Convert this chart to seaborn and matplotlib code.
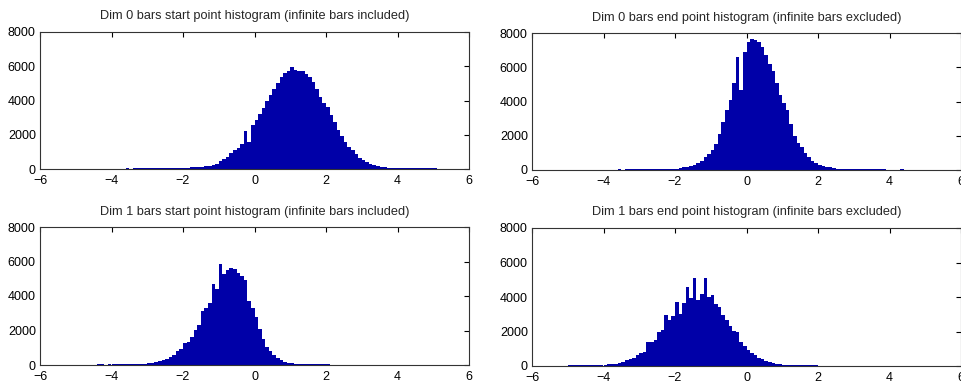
import numpy as np
import pandas as pd
import matplotlib
matplotlib.use("Agg")
import matplotlib.pyplot as plt
import seaborn as sns

# Largeur de classe commune
BIN_WIDTH = 0.1

# Dim 0, points de départ (barres infinies incluses)
dim0_start_lo = -3.6
dim0_start_counts = [
    40, 0, 50, 50, 50, 50, 55, 55, 55, 55, 60, 60, 60, 60, 65, 65,
    70, 80, 90, 105, 115, 130, 150, 190, 230, 300, 480, 560, 700, 950,
    1100, 1250, 1450, 2230, 1600, 2550, 2850, 3200, 3550, 3950, 4300,
    4650, 5000, 5400, 5600, 5750, 5950, 5800, 5750, 5720, 5550, 5350,
    5100, 4650, 4200, 3850, 3600, 3150, 2750, 2300, 1950, 1600, 1300,
    1100, 850, 650, 500, 400, 320, 250, 180, 140, 110, 80, 70, 60, 60,
    55, 55, 55, 50, 50, 50, 50, 50, 45, 40,
]

# Dim 0, points de fin (barres infinies exclues)
dim0_end_lo = -3.6
dim0_end_counts = [
    40, 0, 50, 50, 50, 50, 55, 55, 55, 55, 60, 60, 60, 60, 65, 70,
    80, 110, 150, 200, 250, 320, 400, 520, 780, 950, 1150, 1500, 2100,
    2800, 3500, 4100, 5100, 6600, 4700, 6900, 7500, 7650, 7600, 7450,
    7200, 6700, 6200, 5800, 5100, 4400, 3900, 3500, 2700, 2000, 1600,
    1350, 1000, 750, 550, 420, 320, 240, 180, 150, 110, 80, 65, 60, 55,
    55, 50, 50, 50, 50, 45, 45, 45, 45, 40, 0, 0, 0, 0, 40,
]

# Dim 1, points de départ (barres infinies incluses)
dim1_start_lo = -4.4
dim1_start_counts = [
    50, 50, 0, 50, 50, 50, 55, 55, 55, 55, 60, 60, 65, 80, 100, 130,
    170, 220, 270, 350, 450, 600, 800, 950, 1300, 1350, 1650, 2050,
    2300, 3150, 3300, 3600, 4700, 4400, 5850, 5300, 5500, 5600, 5550,
    5350, 5150, 4900, 3700, 3300, 2800, 2100, 1500, 1050, 800, 600,
    420, 300, 200, 130, 100, 80, 70, 65, 60, 60, 55, 55, 50, 50, 45,
]

# Dim 1, points de fin (barres infinies exclues)
dim1_end_lo = -5.0
dim1_end_counts = [
    50, 50, 50, 50, 55, 55, 55, 60, 60, 65, 70, 90, 110, 130, 160, 260,
    330, 400, 450, 650, 780, 820, 1400, 1420, 1500, 2000, 2100, 2950,
    2650, 2900, 3700, 3000, 3650, 4600, 3950, 5080, 3800, 4200, 5080,
    4000, 4100, 3600, 3400, 2950, 2650, 2300, 2050, 2000, 1400, 1150,
    900, 750, 620, 480, 390, 290, 220, 170, 130, 95, 80, 70, 65, 60,
    60, 55, 55, 50, 50, 45,
]

titres = [
    "Dim 0 bars start point histogram (infinite bars included)",
    "Dim 0 bars end point histogram (infinite bars excluded)",
    "Dim 1 bars start point histogram (infinite bars included)",
    "Dim 1 bars end point histogram (infinite bars excluded)",
]
x_ticks = [-6, -4, -2, 0, 2, 4, 6]
y_ticks = [0, 2000, 4000, 6000, 8000]

sns.set_style("white")
plt.rcParams["font.family"] = ["Liberation Sans", "DejaVu Sans"]

fig = plt.figure(figsize=(9.61, 3.83), dpi=100)
W, H = 961, 383
cadres = [(40, 32, 469, 169), (532, 33, 961, 170),
          (40, 227, 469, 365), (532, 228, 961, 366)]
series = [(dim0_start_lo, dim0_start_counts), (dim0_end_lo, dim0_end_counts),
          (dim1_start_lo, dim1_start_counts), (dim1_end_lo, dim1_end_counts)]

for (x0, y0, x1, y1), (lo, counts), titre in zip(cadres, series, titres):
    ax = fig.add_axes([x0 / W, 1 - y1 / H, (x1 - x0) / W, (y1 - y0) / H])
    n = len(counts)
    centres = lo + BIN_WIDTH * (np.arange(n) + 0.5)
    df = pd.DataFrame({"centre": centres,
                       "effectif": np.asarray(counts, dtype=float)})
    sns.histplot(data=df, x="centre", weights="effectif",
                 binwidth=BIN_WIDTH, binrange=(lo, lo + n * BIN_WIDTH),
                 ax=ax, color="#0000a8", alpha=1, linewidth=0)
    ax.set_xlim(-6, 6)
    ax.set_ylim(0, 8000)
    ax.set_xticks(x_ticks)
    ax.set_yticks(y_ticks)
    ax.set_xlabel("")
    ax.set_ylabel("")
    ax.tick_params(direction="in", length=3.5, width=0.8, labelsize=9,
                   top=True, right=True, colors="black", pad=3)
    ax.tick_params(axis="x", pad=4)
    for sp in ax.spines.values():
        sp.set_linewidth(0.8)
        sp.set_color("#333333")
    ax.set_title(titre, fontsize=9.2, pad=9)

fig.savefig("out.png", dpi=100)
